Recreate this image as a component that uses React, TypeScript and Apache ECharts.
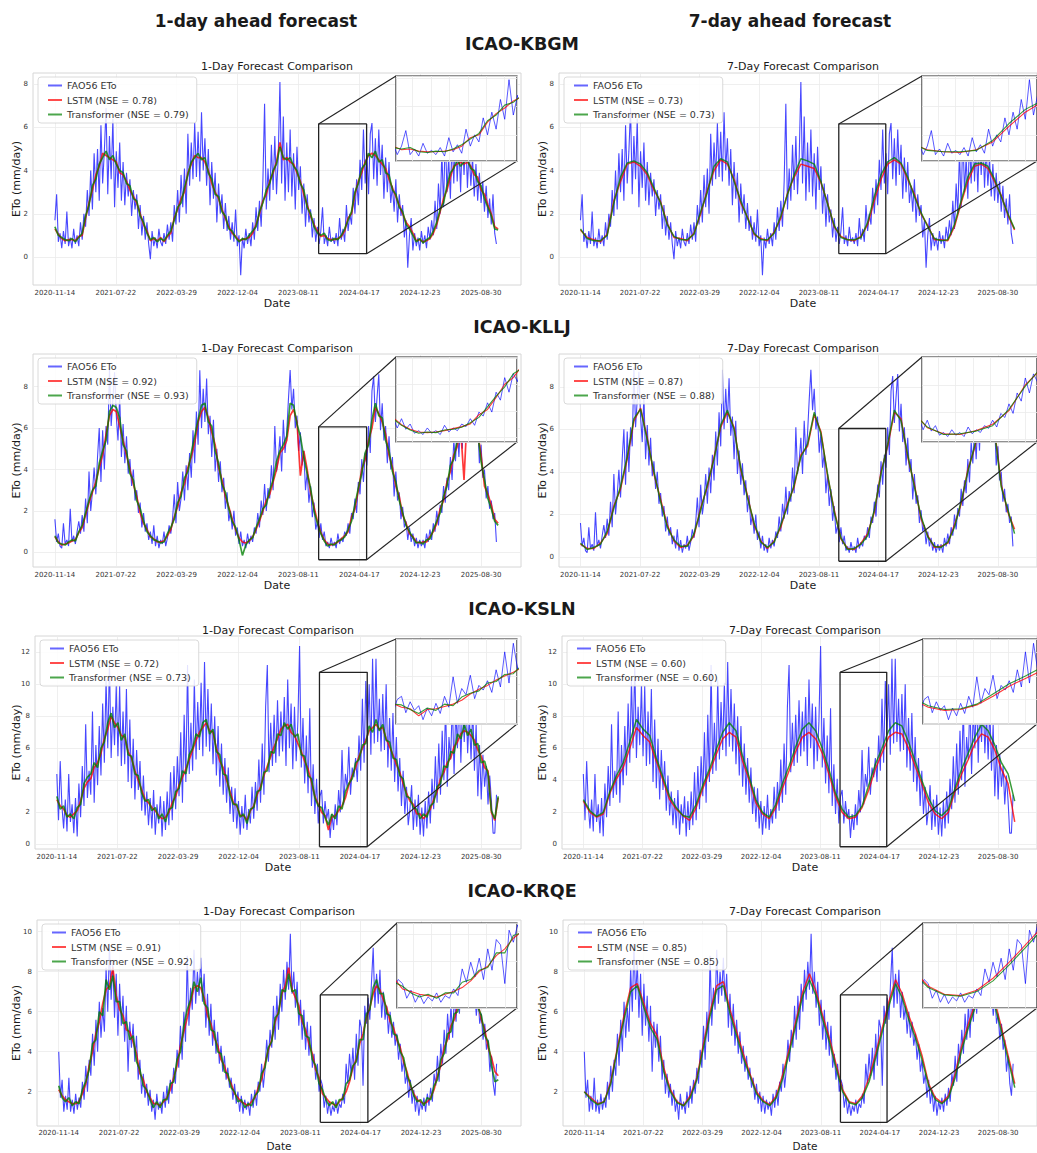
import React, { useEffect, useRef } from 'react';
import * as echarts from 'echarts';

// ---------------- Tick labels / categories ----------------
const TICK_DAYS = [0, 250, 500, 750, 1000, 1250, 1500, 1750];
const TICK_LABELS = ['2020-11-14', '2021-07-22', '2022-03-29', '2022-12-04', '2023-08-11', '2024-04-17', '2024-12-23', '2025-08-30'];
const STATIONS = ['ICAO-KBGM', 'ICAO-KLLJ', 'ICAO-KSLN', 'ICAO-KRQE'];
const NSE_LSTM = [['0.78', '0.73'], ['0.92', '0.87'], ['0.72', '0.60'], ['0.91', '0.85']];
const NSE_TRANS = [['0.79', '0.73'], ['0.93', '0.88'], ['0.73', '0.60'], ['0.92', '0.85']];
const STEP_FAO = 7;   // days between FAO56 samples
const STEP_1D = 14;   // days between 1-day forecast samples
const STEP_7D = 28;   // days between 7-day forecast samples
const ZOOM_X = [1083, 1280];

// ---------------- KBGM ----------------
const kbgmFao = [
  1.7,2.9,0.7,1.1, 0.4,1.2,0.6,2.1, 0.5,0.9,0.4,1.3, 0.6,1.0,0.5,1.6, 0.8,2.0,1.4,3.1, 1.9,4.0,2.2,4.8, 3.0,5.0,2.6,6.1, 3.4,4.9,6.9,2.9, 5.6,3.6,6.4,2.3, 4.9,3.2,5.3,2.6, 4.4,2.4,3.9,2.8, 3.6,1.9,3.1,2.2, 2.9,1.3,2.4,1.0,
  1.9,0.8,1.6,0.6, -0.1,1.2,0.5,0.9, 0.4,1.3,0.7,0.5, 1.1,0.6,1.5,0.8, 1.6,0.7,2.4,1.5, 3.1,1.6,3.8,2.3, 4.1,2.0,5.7,3.3, 5.3,3.6,6.2,3.7, 5.8,3.5,6.7,4.0, 5.5,3.3,5.0,2.4, 4.4,2.7,3.9,1.6, 3.4,2.0,2.9,1.3, 2.5,1.2,1.9,0.8,
  1.6,0.7,2.2,0.5, 1.0,-0.85,0.9,0.4, 1.3,0.6,1.1,0.5, 1.6,0.8,2.3,1.2, 2.6,1.4,3.5,7.1, 2.2,4.1,2.6,5.2, 3.1,5.6,2.9,4.6, 8.1,3.4,6.5,2.6, 5.3,3.0,5.9,2.8, 4.8,2.2,5.1,3.1, 4.2,2.0,3.4,1.4, 2.9,1.6,2.2,0.9, 1.8,0.7,1.4,0.6,
  1.2,2.3,0.6,1.0, 0.5,1.4,0.7,0.9, 0.6,1.1,0.5,1.8, 0.8,1.3,0.7,2.4, 1.2,2.0,1.5,3.2, 2.0,3.6,2.4,4.5, 3.1,5.9,3.4,4.8, 2.9,5.7,6.2,3.6, 5.5,3.3,5.9,3.8, 5.2,2.7,4.6,3.0, 4.4,2.5,3.3,2.1, 3.6,1.6,2.9,1.9, 2.4,0.9,1.7,-0.5,
  1.0,1.8,0.3,1.1, 0.5,0.9,0.3,1.2, 0.6,1.0,0.4,1.4, 0.8,1.7,1.0,2.6, 1.3,3.4,2.0,4.9, 2.3,5.8,3.0,4.6, 2.7,5.5,3.4,6.0, 3.5,5.3,3.0,5.7, 3.8,5.6,3.2,5.0, 3.3,4.6,2.8,4.3, 2.6,3.9,2.5,3.5, 2.1,3.3,1.8,2.7, 1.5,2.9,1.1,0.6,
];
const kbgmTrans1 = [
  1.4,1.0,0.9,0.8,0.75,0.85,0.7,0.9,1.1,1.9,2.4,3.3,3.6,4.3,4.6,4.9,4.5,4.7,4.3,4.0,3.9,3.4,3.3,2.7,2.6,1.9,
  1.6,1.1,0.8,0.9,0.7,0.85,0.75,1.0,1.2,1.7,2.3,2.5,3.2,3.8,4.4,4.6,4.8,4.5,4.6,3.9,3.6,2.9,2.8,2.1,1.9,1.3,
  1.2,0.9,0.7,0.85,0.8,1.0,1.2,1.4,2.1,2.5,3.1,3.4,4.0,4.3,5.1,4.6,4.5,4.6,4.2,4.0,3.4,3.1,2.3,2.0,1.4,1.1,
  1.0,1.1,0.8,0.75,0.85,0.8,1.0,1.3,1.7,2.1,3.0,3.4,4.1,4.3,4.8,4.6,4.9,4.4,4.5,3.9,3.8,3.1,2.9,2.3,2.1,1.5,
  1.3,1.0,0.7,0.85,0.65,0.8,0.9,1.2,1.6,2.2,2.5,3.3,3.9,4.1,4.5,4.2,4.4,4.5,4.1,4.0,3.5,3.3,2.7,2.3,1.9,1.3,1.25,
];
const kbgmLstm1 = [
  1.3,1.05,0.85,0.75,0.8,0.8,0.75,0.95,1.0,1.8,2.5,3.1,3.8,4.2,4.8,4.7,4.6,4.5,4.4,3.9,3.8,3.5,3.1,2.8,2.5,2.0,
  1.5,1.2,0.75,0.85,0.75,0.9,0.7,0.95,1.1,1.8,2.2,2.7,3.0,3.9,4.3,4.7,4.6,4.6,4.4,4.0,3.4,3.0,2.7,2.2,1.8,1.4,
  1.1,0.95,0.75,0.8,0.85,0.9,1.1,1.5,2.0,2.6,2.9,3.5,3.9,4.4,5.3,4.5,4.6,4.4,4.3,3.9,3.5,2.9,2.4,1.9,1.5,1.2,
  0.95,1.0,0.85,0.8,0.8,0.85,0.95,1.2,1.8,2.0,2.9,3.5,3.9,4.4,4.7,4.8,4.7,4.5,4.3,4.1,3.6,3.2,2.8,2.4,2.0,1.6,
  1.4,1.1,0.75,0.8,0.7,0.75,0.85,1.1,1.5,2.1,2.7,3.1,3.7,4.2,4.3,4.4,4.3,4.4,4.2,3.8,3.7,3.1,2.9,2.4,2.0,1.4,1.3,
];
const kbgmTrans7 = [
  1.3,0.85,0.75,0.75,1.0,2.5,3.7,4.35,4.45,4.3,3.9,3.2,2.5,
  1.5,0.95,0.8,0.8,1.05,2.1,3.0,4.2,4.55,4.4,3.5,2.6,1.8,
  1.1,0.8,0.8,1.1,1.9,2.9,3.8,4.55,4.45,4.3,3.5,2.45,1.45,
  0.9,0.8,0.8,0.9,1.6,2.8,3.8,4.4,4.6,4.35,3.7,2.8,2.05,
  1.4,0.85,0.75,0.8,1.5,2.6,3.7,4.3,4.35,4.2,3.6,2.8,2.0,1.3,
];
const kbgmLstm7 = [
  1.25,0.9,0.8,0.7,1.05,2.6,3.5,4.3,4.4,4.2,3.8,3.1,2.55,
  1.55,0.9,0.85,0.75,1.1,2.0,3.1,4.0,4.5,4.3,3.6,2.5,1.85,
  1.05,0.85,0.75,1.15,1.8,2.95,3.7,4.3,4.2,4.1,3.45,2.5,1.4,
  0.95,0.8,0.75,0.95,1.5,2.6,3.6,4.3,4.5,4.3,3.6,2.9,2.0,
  1.45,0.8,0.8,0.75,1.4,2.5,3.5,4.2,4.3,4.1,3.5,2.85,1.95,1.25,
];

// ---------------- KLLJ ----------------
const klljFao = [
  1.6,0.5,0.9,0.3, 0.2,1.4,0.4,0.6, 0.3,2.1,0.5,0.8, 0.4,1.0,1.5,0.9, 1.8,1.0,2.6,1.4, 3.9,2.0,2.9,4.1, 2.8,4.6,6.0,3.4, 5.9,4.0,6.1,5.2, 8.9,6.1,7.4,8.7, 6.6,5.4,7.6,4.6, 6.2,4.3,5.6,3.8, 4.5,3.2,4.0,2.5, 3.0,1.9,2.4,1.2,
  1.9,1.0,1.4,0.6, 1.0,0.4,1.3,0.3, 0.8,0.2,0.6,0.4, 1.0,0.3,0.7,1.3, 0.9,1.6,2.8,1.4, 3.4,2.0,2.6,3.9, 2.5,4.2,3.0,4.8, 3.6,5.9,4.3,6.8, 5.2,8.8,6.0,7.9, 6.3,8.4,5.7,6.6, 4.6,6.4,3.9,5.0, 3.4,4.4,2.9,3.6, 2.1,2.9,1.5,2.0,
  1.1,2.0,0.8,1.2, 0.4,1.0,0.3,0.6, 0.2,0.9,0.4,0.8, 0.5,1.2,0.9,1.9, 1.2,2.5,1.8,3.3, 2.0,3.1,2.6,4.2, 3.0,6.1,3.9,4.5, 5.6,3.9,6.4,4.8, 5.8,7.4,8.8,6.9, 7.9,6.0,6.6,4.9, 5.8,4.2,4.9,3.0, 3.9,2.4,3.2,1.7, 2.4,1.1,1.5,0.7,
  1.4,0.6,1.0,0.3, 0.5,0.2,0.7,0.3, 0.5,0.2,0.9,0.4, 0.7,0.5,1.0,0.8, 1.4,0.9,1.9,1.6, 2.6,1.9,3.4,2.8, 4.5,3.4,4.8,4.2, 6.1,4.8,7.8,8.5, 6.3,7.5,8.6,5.9, 7.2,5.4,6.1,4.3, 5.6,4.0,4.6,2.7, 3.9,2.5,2.9,1.6, 2.2,1.2,1.5,0.6,
  1.2,0.5,0.9,0.3, 0.7,0.2,0.6,0.3, 0.6,0.2,0.9,0.5, 1.1,0.6,1.4,1.0, 2.0,1.3,2.3,1.9, 3.2,2.4,3.6,3.0, 4.6,3.5,5.4,4.4, 6.0,4.6,6.5,5.0, 7.4,5.8,7.9,6.2, 7.6,6.1,8.2,5.5, 6.4,4.3,5.2,3.6, 4.0,2.6,3.2,2.1, 2.5,1.6,1.9,0.5,
];
const klljTrans1 = [
  0.8,0.45,0.4,0.35,0.5,0.6,0.55,1.0,1.3,1.9,2.5,3.0,3.2,4.3,4.9,5.4,6.8,7.1,7.0,6.5,5.2,4.9,3.8,3.5,2.5,2.1,
  1.5,1.0,0.8,0.6,0.55,0.45,0.5,0.9,1.2,1.6,2.4,2.7,3.6,3.9,4.8,5.6,6.4,7.1,7.2,6.3,6.1,4.9,4.3,3.3,2.9,2.1,
  1.5,1.2,0.6,-0.15,0.35,0.6,0.7,1.2,1.6,2.1,2.3,3.0,3.5,4.4,4.9,5.2,5.6,7.2,7.1,6.2,5.6,4.6,3.8,3.1,2.0,1.4,
  0.9,0.55,0.3,0.4,0.35,0.55,0.6,0.75,1.1,1.5,2.3,3.1,3.8,4.8,5.2,6.4,7.2,6.6,6.5,5.4,4.9,3.9,3.4,2.5,1.9,1.3,
  1.0,0.7,0.45,0.5,0.4,0.6,0.65,1.1,1.5,1.9,2.7,3.2,4.2,4.5,5.4,5.8,6.9,6.7,7.1,6.3,5.8,4.4,3.5,2.6,2.1,1.5,1.3,
];
const klljLstm1 = [
  0.75,0.5,0.35,0.4,0.45,0.55,0.6,0.95,1.2,1.8,2.4,2.9,3.4,4.1,4.7,5.7,6.6,6.9,6.8,6.1,5.4,4.7,4.0,3.3,2.7,1.9,
  1.4,1.1,0.75,0.65,0.5,0.5,0.55,0.8,1.1,1.7,2.2,2.9,3.3,4.1,4.6,5.3,6.3,6.8,7.0,6.5,5.8,5.2,4.1,3.5,2.7,2.2,
  1.6,1.1,0.7,0.5,0.45,0.55,0.75,1.1,1.5,2.0,2.5,2.8,3.4,4.0,4.8,5.0,5.4,6.6,6.9,6.3,3.7,4.9,4.0,2.9,2.2,1.5,
  0.95,0.6,0.4,0.35,0.4,0.5,0.65,0.8,1.0,1.7,2.1,3.0,4.0,4.5,5.4,6.0,7.0,6.7,6.3,5.7,4.7,4.1,3.2,2.7,1.8,1.4,
  0.9,0.75,0.5,0.45,0.5,0.5,0.75,1.0,1.4,2.1,2.5,3.4,3.9,4.7,5.1,6.0,3.5,6.9,6.9,6.5,5.8,4.7,3.2,2.8,2.3,1.6,1.4,
];
const klljTrans7 = [
  0.65,0.35,0.45,0.6,1.2,2.3,3.3,4.7,6.5,6.95,5.5,4.0,2.6,
  1.4,0.8,0.5,0.5,1.1,2.2,3.4,4.6,6.2,6.9,6.0,4.2,2.8,
  1.6,0.7,0.45,0.7,1.5,2.4,3.4,4.7,5.3,6.8,5.8,3.9,2.1,
  0.9,0.35,0.4,0.6,1.0,2.2,3.9,5.3,6.9,6.4,4.8,3.3,1.9,
  0.95,0.5,0.45,0.7,1.4,2.6,4.0,5.2,6.6,7.0,5.9,3.3,2.2,1.1,
];
const klljLstm7 = [
  0.6,0.4,0.4,0.65,1.1,2.4,3.2,4.6,6.4,7.0,5.6,3.9,2.7,
  1.5,0.75,0.45,0.55,1.0,2.3,3.3,4.7,6.1,6.8,6.1,4.1,2.9,
  1.5,0.75,0.4,0.75,1.4,2.5,3.3,4.8,5.2,6.7,5.9,3.8,2.2,
  0.85,0.4,0.35,0.65,1.1,2.1,4.0,5.2,6.8,6.5,4.7,3.4,1.8,
  1.0,0.45,0.5,0.65,1.5,2.5,4.1,5.1,6.5,6.9,6.0,3.4,2.1,1.3,
];

// ---------------- KSLN ----------------
const kslnFao = [
  4.4,1.5,5.2,2.4, 1.0,2.8,0.8,4.4, 1.4,2.5,0.7,2.9, 0.5,3.8,1.7,4.9, 2.4,7.5,2.9,4.6, 3.1,8.3,2.6,6.2, 3.7,7.4,4.3,8.8, 5.1,10.3,6.0,11.4, 5.4,8.6,6.2,9.9, 5.5,9.9,4.9,8.3, 5.0,9.7,3.9,7.8, 3.5,6.6,2.8,5.9, 3.4,5.2,2.1,4.3,
  1.8,3.3,1.2,2.9, 1.0,3.4,0.6,2.5, 1.3,3.0,0.5,2.7, 0.9,3.3,1.2,4.5, 1.5,4.9,2.2,5.5, 3.0,7.0,2.6,8.1, 3.9,11.2,4.4,7.6, 4.6,10.3,5.3,8.9, 5.9,10.1,5.5,11.4, 6.1,9.7,5.8,8.8, 5.0,8.0,4.3,7.4, 3.6,6.3,3.1,5.4, 2.6,4.8,1.9,3.6,
  1.4,3.5,1.0,2.7, 0.6,2.4,1.0,3.1, 0.9,2.2,1.3,3.6, 1.6,3.9,2.1,5.3, 2.6,6.3,3.1,8.6, 11.2,4.5,7.6,4.9, 8.1,5.1,9.0,5.5, 8.3,5.8,9.2,4.9, 10.3,6.0,8.8,4.7, 8.6,5.2,7.7,12.4, 4.8,7.9,3.8,6.8, 3.2,8.5,2.4,5.0, 1.9,4.1,1.3,3.0,
  3.4,1.3,2.7,1.6, 2.2,0.4,1.9,0.9, 2.5,1.2,3.4,2.0, 5.9,2.5,4.4,3.6, 6.1,3.1,4.8,4.2, 5.4,3.9,6.8,4.6, 9.1,5.1,10.2,6.9, 10.0,5.6,11.6,6.3, 11.6,6.4,9.1,5.8, 9.4,5.9,10.0,4.8, 7.9,4.6,8.2,3.9, 6.7,3.3,5.4,2.4, 4.6,1.9,3.6,1.2,
  2.2,3.7,0.9,2.8, 1.1,3.1,0.6,2.3, 0.5,2.7,1.0,3.3, 1.3,4.1,2.2,5.5, 2.6,6.3,3.1,7.1, 4.0,8.8,3.6,6.7, 5.3,9.0,4.4,8.4, 6.0,9.6,5.1,8.9, 6.4,9.3,5.7,8.1, 5.3,8.6,4.6,7.5, 3.0,6.2,2.8,5.6, 3.6,4.9,2.5,4.3, 2.7,0.7,0.7,3.1,
];
const kslnTrans1 = [
  3.0,2.2,2.4,1.7,1.9,1.6,2.3,2.5,3.8,4.2,4.4,5.1,4.8,6.0,6.4,7.6,8.2,7.3,7.6,6.5,6.9,5.6,5.5,4.4,4.3,3.2,
  2.7,2.8,2.1,2.3,1.6,1.9,1.4,2.2,2.3,3.3,3.5,4.6,4.4,5.6,6.0,6.9,6.7,7.6,7.8,6.9,7.2,5.8,5.6,4.4,4.3,3.1,
  2.5,2.5,1.7,1.9,1.3,2.2,2.3,3.3,3.4,4.5,4.6,5.8,5.7,6.9,6.8,7.6,7.2,7.5,6.7,6.9,5.6,5.5,4.3,4.1,2.9,2.4,
  2.3,1.7,1.2,1.9,1.6,2.4,2.2,3.3,3.8,4.1,5.1,5.3,6.2,6.3,7.4,7.0,7.8,7.1,7.5,6.5,6.4,5.4,5.3,4.3,4.1,3.0,
  2.9,2.3,2.2,1.6,1.9,1.7,2.4,2.6,3.6,3.8,4.9,4.8,5.8,5.7,6.9,6.6,7.5,6.8,7.2,6.2,6.3,5.1,5.2,4.4,2.1,1.6,3.0,
];
const kslnLstm1 = [
  2.8,2.4,2.2,1.8,1.7,1.9,2.1,2.7,3.5,3.9,4.1,4.8,5.1,5.7,6.6,7.2,8.0,7.6,7.3,6.8,6.7,5.8,5.4,4.6,4.0,3.4,
  2.8,2.6,2.3,2.1,1.8,1.6,1.7,2.0,2.6,3.0,3.7,4.2,4.7,5.3,5.9,6.5,7.0,7.3,7.6,7.1,7.0,6.0,5.2,4.8,4.0,3.3,
  2.6,2.4,1.8,1.8,1.5,2.1,2.4,3.1,3.6,4.3,4.9,5.5,6.1,6.6,7.2,7.4,7.5,7.0,6.8,6.3,5.8,5.2,4.7,3.9,3.0,2.5,
  2.0,1.8,0.9,1.7,1.8,2.1,2.4,2.9,3.7,4.3,4.8,5.5,6.0,6.5,7.1,7.3,7.5,7.2,7.3,6.6,6.1,5.6,5.0,4.5,3.8,3.2,
  2.7,2.5,1.9,1.9,1.6,1.9,2.2,2.8,3.3,4.1,4.5,5.1,5.4,6.1,6.4,6.9,7.1,7.0,6.8,6.5,5.9,5.5,4.8,4.6,2.0,1.5,2.9,
];
const kslnTrans7 = [
  2.8,2.1,1.75,2.0,3.3,4.3,5.1,6.4,7.8,7.2,6.8,5.4,4.2,
  3.0,2.3,1.8,1.7,2.5,3.7,4.7,5.9,7.0,7.6,7.1,5.5,4.2,
  2.8,2.0,1.7,2.5,3.8,4.9,6.1,7.2,7.6,7.1,6.0,4.7,3.2,
  2.2,1.7,1.8,2.4,3.7,5.0,6.0,7.1,7.6,7.4,6.4,5.2,4.0,
  2.9,2.1,1.8,2.2,3.5,4.7,5.7,6.7,7.5,7.1,6.2,5.1,4.4,2.7,
];
const kslnLstm7 = [
  2.7,2.0,1.7,1.9,3.2,4.1,4.8,6.0,7.3,6.8,6.4,5.2,4.0,
  2.8,2.2,1.8,1.5,2.3,3.5,4.5,5.6,6.6,7.0,6.7,5.2,4.0,
  2.6,1.9,1.6,2.3,3.5,4.6,5.8,6.7,7.0,6.6,5.7,4.4,3.0,
  2.0,1.6,1.7,2.3,3.4,4.7,5.7,6.7,7.0,6.9,6.0,4.9,3.8,
  2.6,1.9,1.6,2.0,3.3,4.4,5.3,6.3,6.9,6.7,5.9,4.7,3.8,1.4,
];

// ---------------- KRQE ----------------
const krqeFao = [
  4.0,1.7,2.6,1.0, 1.8,1.1,2.7,1.0, 1.6,0.9,1.9,1.1, 1.7,1.2,2.5,1.6, 3.3,2.0,3.6,2.8, 4.9,3.3,5.6,4.0, 6.5,4.7,6.2,5.0, 8.2,6.0,9.4,6.6, 8.5,5.7,7.9,4.8, 7.4,5.3,6.8,4.5, 6.3,3.0,5.5,4.2, 5.4,3.5,4.8,2.6, 3.6,1.9,2.9,1.7,
  2.4,1.3,2.1,1.0, 1.6,0.6,1.9,1.1, 1.5,0.9,2.0,1.2, 2.3,1.4,2.6,1.9, 3.2,2.4,4.1,3.2, 5.3,3.6,6.0,4.5, 8.8,5.3,7.2,6.1, 9.1,6.4,8.0,6.8, 8.7,6.5,7.9,5.2, 6.9,4.8,6.4,4.3, 5.6,3.9,5.0,3.4, 4.3,3.0,3.8,2.6, 3.2,2.2,2.7,1.6,
  2.4,1.4,2.0,1.0, 1.8,0.9,1.6,1.1, 1.5,0.8,1.9,1.2, 2.1,1.3,2.5,2.0, 3.4,2.2,3.1,4.6, 3.5,5.1,4.2,6.3, 4.6,6.8,5.1,7.4, 6.0,8.1,6.6,8.5, 7.1,9.9,6.9,8.0, 6.2,7.5,5.3,6.6, 4.6,6.1,4.1,5.5, 3.8,5.3,3.2,3.9, 2.6,3.4,2.0,2.6,
  2.3,1.2,1.8,0.9, 1.5,0.8,1.3,1.0, 1.6,0.9,1.4,1.2, 1.9,1.4,3.4,2.4, 3.9,2.8,4.2,2.6, 4.9,3.3,5.6,5.2, 2.3,6.3,5.4,6.7, 5.6,7.5,9.2,6.2, 7.9,6.4,8.1,5.7, 7.0,5.6,6.3,4.9, 6.0,4.7,5.5,4.3, 4.9,3.6,4.4,3.0, 3.6,2.4,2.9,1.7,
  2.6,1.4,2.1,1.0, 1.8,0.8,1.5,1.1, 1.7,1.0,1.9,1.3, 2.2,1.5,2.9,2.3, 3.8,2.5,4.4,3.4, 5.1,3.9,5.9,4.6, 6.3,4.7,6.9,5.5, 7.6,5.9,8.0,6.4, 8.3,6.5,7.8,6.9, 7.9,6.4,7.0,5.8, 6.8,5.4,5.9,4.6, 5.4,4.1,4.6,3.0, 3.8,2.4,1.8,3.4,
];
const krqeTrans1 = [
  2.3,1.7,1.5,1.7,1.3,1.5,1.4,2.1,2.5,3.1,4.4,4.6,6.0,5.8,7.6,7.1,7.8,6.5,6.5,5.4,5.5,4.6,4.8,3.5,3.1,2.3,
  2.1,1.6,1.2,1.5,1.2,1.6,1.6,2.4,2.5,3.6,4.0,5.3,6.1,6.6,7.5,7.0,7.7,6.4,6.2,5.1,5.0,4.0,3.9,3.0,2.9,2.2,
  2.0,1.5,1.6,1.2,1.4,1.3,1.8,2.0,2.9,3.2,4.2,4.5,5.7,5.9,7.1,7.0,7.9,7.0,7.1,5.9,5.8,4.8,4.7,3.6,3.3,2.4,
  2.1,1.6,1.3,1.5,1.2,1.6,1.6,2.4,2.6,3.3,3.5,4.6,4.6,5.9,6.1,7.2,7.6,6.9,6.9,5.9,5.8,4.9,4.8,4.0,3.7,2.8,
  2.4,1.8,1.5,1.6,1.3,1.7,1.6,2.3,2.6,3.6,3.9,4.9,5.0,5.9,6.0,6.9,6.8,7.4,7.0,6.9,6.2,5.8,4.8,4.5,3.3,2.5,2.6,
];
const krqeLstm1 = [
  2.1,1.8,1.6,1.5,1.4,1.4,1.5,1.9,2.4,3.3,4.0,4.9,5.5,6.4,7.1,7.3,8.2,6.8,6.1,5.8,5.1,5.0,4.5,3.9,2.9,2.6,
  2.0,1.7,1.4,1.4,1.3,1.5,1.7,2.1,2.7,3.3,4.3,5.0,5.7,6.5,7.2,7.3,7.2,6.7,5.8,5.4,4.7,4.3,3.6,3.3,2.7,2.4,
  1.9,1.7,1.5,1.4,1.3,1.5,1.7,2.2,2.6,3.4,4.1,4.6,5.5,6.0,6.9,7.3,8.2,7.1,6.7,6.3,5.5,5.1,4.4,3.9,3.1,2.7,
  1.9,1.7,1.5,1.4,1.3,1.5,1.7,2.0,2.5,3.2,3.6,4.4,4.9,5.7,6.2,6.9,7.3,7.1,6.6,6.2,5.5,5.2,4.6,4.2,3.5,3.0,
  2.3,1.9,1.6,1.5,1.4,1.5,1.7,2.1,2.8,3.3,4.2,4.6,5.3,5.6,6.3,6.5,7.1,7.0,7.3,6.7,6.4,5.6,5.1,4.2,3.7,3.0,2.8,
];
const krqeTrans7 = [
  2.0,1.6,1.35,1.5,2.4,4.1,5.6,7.0,7.3,6.2,5.2,4.6,3.0,
  2.0,1.45,1.3,1.7,2.6,4.2,5.8,7.1,7.3,5.9,4.8,3.7,2.8,
  1.9,1.5,1.3,1.7,2.7,4.0,5.4,6.8,7.6,6.8,5.6,4.5,3.2,
  2.0,1.45,1.35,1.7,2.5,3.7,5.0,6.3,7.4,6.7,5.6,4.7,3.6,
  2.3,1.6,1.4,1.7,2.7,4.1,5.2,6.2,7.0,7.2,6.3,5.0,3.6,2.2,
];
const krqeLstm7 = [
  2.0,1.7,1.4,1.5,2.5,4.2,5.8,7.2,7.4,6.4,5.4,4.8,3.2,
  2.1,1.5,1.3,1.8,2.7,4.4,6.0,7.3,7.5,6.1,5.0,3.9,2.9,
  2.0,1.55,1.35,1.8,2.9,4.2,5.6,7.0,7.9,7.0,5.8,4.7,3.4,
  2.1,1.5,1.4,1.8,2.7,3.9,5.2,6.5,7.6,6.9,5.8,4.9,3.8,
  2.4,1.7,1.45,1.8,2.9,4.3,5.4,6.4,7.2,7.4,6.5,5.2,3.8,2.4,
];

const STATION_DATA = [
  { fao: kbgmFao, l1: kbgmLstm1, t1: kbgmTrans1, l7: kbgmLstm7, t7: kbgmTrans7 },
  { fao: klljFao, l1: klljLstm1, t1: klljTrans1, l7: klljLstm7, t7: klljTrans7 },
  { fao: kslnFao, l1: kslnLstm1, t1: kslnTrans1, l7: kslnLstm7, t7: kslnTrans7 },
  { fao: krqeFao, l1: krqeLstm1, t1: krqeTrans1, l7: krqeLstm7, t7: krqeTrans7 },
];

// ---------------- Layout / axis ranges ----------------
const FONT = 'DejaVu Sans';
const X_MIN = -90;
const X_MAX = 1914;
const ROW_TOP = [73, 354, 636, 920];
const ROW_H = [212, 213, 213, 206];
const ROW_W = [488, 488, 486, 484];
const COL_LEFT = [[33, 559], [33, 559], [35, 562], [37, 563]];
const Y_RANGE = [
  [[-1.3, 8.52], [-1.3, 8.52]],
  [[-0.71, 9.58], [-0.47, 9.54]],
  [[-0.29, 13.02], [-0.29, 13.02]],
  [[0.285, 10.585], [0.285, 10.585]],
];
const Y_TICKS = [[0, 2, 4, 6, 8], [0, 2, 4, 6, 8], [0, 2, 4, 6, 8, 10, 12], [2, 4, 6, 8, 10]];
const ZOOM_Y = [
  [[0.15, 6.16], [0.15, 6.16]],
  [[-0.36, 6.06], [-0.2, 6.04]],
  [[-0.15, 10.75], [-0.15, 10.75]],
  [[0.47, 6.84], [0.47, 6.84]],
];
const PANEL_TITLE_Y = [66, 348, 630, 911];
const DATE_Y = [303, 585, 867, 1146];
const STATION_Y = [44, 327, 609, 891];
const YNAME_X = [16, 542];

const COLORS = ['rgba(0,0,255,0.72)', 'rgba(255,0,0,0.78)', 'rgba(0,128,0,0.78)'];
const LEGEND_COLORS = ['rgba(0,0,255,0.6)', 'rgba(255,0,0,0.7)', 'rgba(0,128,0,0.7)'];
const GRID_LINE = '#ebebeb';

const toXY = (arr: number[], step: number) => arr.map((v, i) => [i * step, v]);

function buildOption() {
  const grid: any[] = [];
  const xAxis: any[] = [];
  const yAxis: any[] = [];
  const series: any[] = [];
  const legend: any[] = [];
  const panels: any[] = [];

  for (let r = 0; r < 4; r++) {
    const st = STATION_DATA[r];
    for (let c = 0; c < 2; c++) {
      const left = COL_LEFT[r][c];
      const top = ROW_TOP[r];
      const w = ROW_W[r];
      const h = ROW_H[r];
      const [ymin, ymax] = Y_RANGE[r][c];

      const main = grid.length;
      grid.push({ left, top, width: w, height: h, show: true, borderColor: '#d6d6d6', borderWidth: 1, backgroundColor: 'transparent' });
      xAxis.push({
        type: 'value', gridIndex: main, min: X_MIN, max: X_MAX,
        axisLine: { show: false },
        axisTick: { show: false, customValues: TICK_DAYS },
        axisLabel: {
          customValues: TICK_DAYS,
          formatter: (v: number) => { const i = TICK_DAYS.indexOf(Math.round(v)); return i >= 0 ? TICK_LABELS[i] : ''; },
          fontSize: 7, color: '#333', margin: r === 3 ? 3 : 4, fontFamily: FONT,
        },
        splitLine: { show: true, lineStyle: { color: GRID_LINE, width: 0.8 } },
      });
      yAxis.push({
        type: 'value', gridIndex: main, min: ymin, max: ymax,
        axisLine: { show: false },
        axisTick: { show: false, customValues: Y_TICKS[r] },
        axisLabel: { customValues: Y_TICKS[r], fontSize: 7, color: '#333', margin: 5, fontFamily: FONT },
        splitLine: { show: true, lineStyle: { color: GRID_LINE, width: 0.8 } },
      });

      const inset = grid.length;
      const iw = Math.round(w * 0.248);
      const ih = r === 3 ? 85 : Math.round(h * 0.4);
      grid.push({ left: left + w - iw - 4, top: top + 3, width: iw, height: ih, show: true, backgroundColor: '#ffffff', borderColor: '#222', borderWidth: 1.2, z: 10 });
      const [zy1, zy2] = ZOOM_Y[r][c];
      xAxis.push({
        type: 'value', gridIndex: inset, min: ZOOM_X[0], max: ZOOM_X[1], splitNumber: 6, z: 11,
        axisLine: { show: false }, axisTick: { show: false }, axisLabel: { show: false },
        splitLine: { show: true, lineStyle: { color: GRID_LINE, width: 0.8 } },
      });
      yAxis.push({
        type: 'value', gridIndex: inset, min: zy1, max: zy2, splitNumber: 3, z: 11,
        axisLine: { show: false }, axisTick: { show: false }, axisLabel: { show: false },
        splitLine: { show: true, lineStyle: { color: GRID_LINE, width: 0.8 } },
      });

      const names = ['FAO56 ETo', `LSTM (NSE = ${NSE_LSTM[r][c]})`, `Transformer (NSE = ${NSE_TRANS[r][c]})`];
      const datasets = [
        toXY(st.fao, STEP_FAO),
        c === 0 ? toXY(st.l1, STEP_1D) : toXY(st.l7, STEP_7D),
        c === 0 ? toXY(st.t1, STEP_1D) : toXY(st.t7, STEP_7D),
      ];
      const predWidth = c === 0 ? 1.7 : 1.5;
      datasets.forEach((d, k) => {
        series.push({
          type: 'line', name: names[k], xAxisIndex: main, yAxisIndex: main, data: d,
          showSymbol: false, symbol: 'none', silent: true, z: 2 + k * 0.1,
          lineStyle: { color: COLORS[k], width: k === 0 ? 1.1 : predWidth },
          itemStyle: { color: LEGEND_COLORS[k] },
        });
      });
      datasets.forEach((d, k) => {
        series.push({
          type: 'line', name: names[k], xAxisIndex: inset, yAxisIndex: inset, data: d,
          showSymbol: false, symbol: 'none', silent: true, z: 12 + k * 0.1,
          lineStyle: { color: COLORS[k], width: k === 0 ? 0.9 : 1.1 },
          itemStyle: { color: LEGEND_COLORS[k] },
        });
      });
      const [x1, x2] = ZOOM_X;
      series.push({
        type: 'line', xAxisIndex: main, yAxisIndex: main,
        data: [[x1, zy1], [x2, zy1], [x2, zy2], [x1, zy2], [x1, zy1]],
        showSymbol: false, symbol: 'none', silent: true, z: 9,
        lineStyle: { color: '#222', width: 1.3 }, itemStyle: { color: '#222' },
      });

      legend.push({
        data: names, left: left + 5, top: top + 4, orient: 'vertical',
        itemGap: 3.5, itemWidth: 14, itemHeight: 2, icon: 'rect',
        padding: [3, 8, 3, 10], backgroundColor: 'rgba(255,255,255,0.85)',
        borderColor: '#d0d0d0', borderWidth: 0.8, borderRadius: 3,
        selectedMode: false, z: 8,
        textStyle: { fontSize: 9.5, color: '#333', fontFamily: FONT, lineHeight: 11 },
      });

      panels.push({ r, c, left, top, w, h, main, inset, zoomY: [zy1, zy2] });
    }
  }

  const option = {
    animation: false,
    backgroundColor: '#ffffff',
    grid, xAxis, yAxis, series, legend,
    tooltip: { show: false },
  };
  return { option, panels };
}

function textEl(text: string, x: number, y: number, size: number, weight: string, rotation = 0) {
  return {
    type: 'text', x, y, rotation, silent: true, z: 20,
    style: {
      text, fontSize: size, fontWeight: weight, fontFamily: FONT, fill: '#1a1a1a',
      textAlign: 'center', textVerticalAlign: 'middle', align: 'center', verticalAlign: 'middle',
    },
  };
}

function buildGraphics(chart: any, panels: any[]) {
  const els: any[] = [];
  els.push(textEl('1-day ahead forecast', 256, 21, 17, 'bold'));
  els.push(textEl('7-day ahead forecast', 790, 21, 17, 'bold'));
  STATIONS.forEach((s, r) => els.push(textEl(s, 522, STATION_Y[r], 17.5, 'bold')));
  panels.forEach((p) => {
    const cx = p.left + p.w / 2;
    els.push(textEl(p.c === 0 ? '1-Day Forecast Comparison' : '7-Day Forecast Comparison', cx, PANEL_TITLE_Y[p.r], 11, 'normal'));
    els.push(textEl('Date', cx, DATE_Y[p.r], p.r === 3 ? 10.5 : 11, 'normal'));
    els.push(textEl('ETo (mm/day)', YNAME_X[p.c], p.top + p.h / 2, 11, 'normal', Math.PI / 2));
    const [x1, x2] = ZOOM_X;
    const [y1, y2] = p.zoomY;
    const a1 = chart.convertToPixel({ gridIndex: p.main }, [x1, y2]);
    const b1 = chart.convertToPixel({ gridIndex: p.inset }, [x1, y2]);
    const a2 = chart.convertToPixel({ gridIndex: p.main }, [x2, y1]);
    const b2 = chart.convertToPixel({ gridIndex: p.inset }, [x2, y1]);
    [[a1, b1], [a2, b2]].forEach(([a, b]) => {
      if (!a || !b) return;
      els.push({
        type: 'line', silent: true, z: 9,
        shape: { x1: a[0], y1: a[1], x2: b[0], y2: b[1] },
        style: { stroke: '#222', lineWidth: 1.1 },
      });
    });
  });
  return els;
}

export default function App() {
  const ref = useRef<HTMLDivElement>(null);
  useEffect(() => {
    if (!ref.current) return;
    const chart = echarts.init(ref.current, null, { renderer: 'svg' });
    const { option, panels } = buildOption();
    chart.setOption(option as any);
    chart.setOption({ graphic: buildGraphics(chart, panels) } as any);
    return () => chart.dispose();
  }, []);
  return (
    <div
      ref={ref}
      style={{ position: 'absolute', left: 0, top: 0, width: 1037, height: 1153, overflow: 'hidden', background: '#fff' }}
    />
  );
}
